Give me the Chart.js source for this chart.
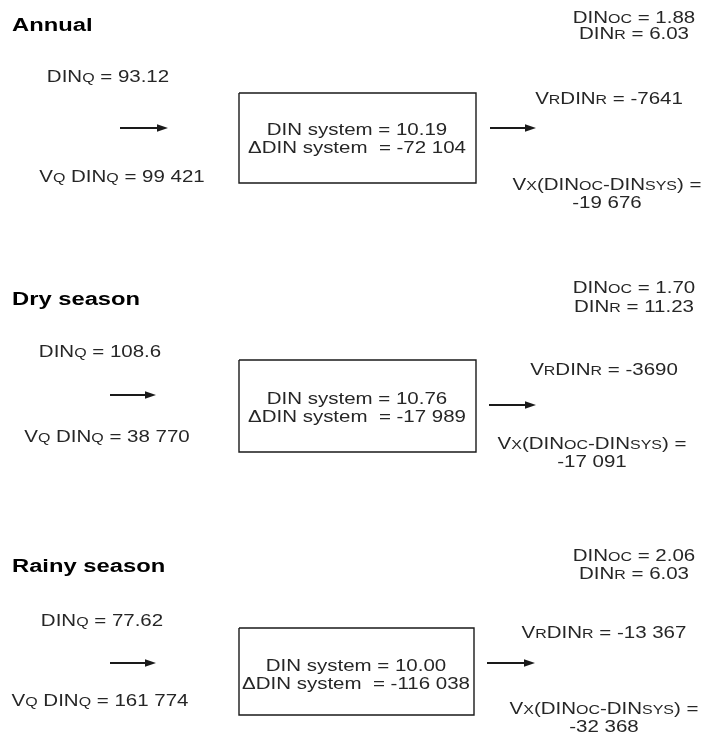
<!DOCTYPE html>
<html>
<head>
<meta charset="utf-8">
<script src="https://cdn.jsdelivr.net/npm/chart.js@4.4.1/dist/chart.umd.min.js"></script>
<style>
    html, body { margin: 0; padding: 0; background: #fff; }
    #wrap { width: 703px; height: 734px; }
</style>
</head>
<body>
<div id="wrap"><canvas id="din-budget"></canvas></div>
<script>
// DIN budget values per period
const periods = ["Annual", "Dry season", "Rainy season"];
const dinQ = [93.12, 108.6, 77.62];
const vqDinQ = [99421, 38770, 161774];
const dinSystem = [10.19, 10.76, 10.0];
const deltaDinSystem = [-72104, -17989, -116038];
const dinOc = [1.88, 1.7, 2.06];
const dinR = [6.03, 11.23, 6.03];
const vrDinR = [-7641, -3690, -13367];
const vxDin = [-19676, -17091, -32368];

// Diagram layout in page units (x 0..703, y 0..734, y down)
const layout = [
    { title: 25, oc: [634, 17, 33], q: [108, 76], arrowIn: [120, 168, 128], box: [239, 93, 476, 183], lines: [357, 129, 147], arrowOut: [490, 536, 128], vr: [609, 98], vq: [122, 176], vx: [607, 184, 202] },
    { title: 299, oc: [634, 287, 306], q: [100, 351], arrowIn: [110, 156, 395], box: [239, 360, 476, 452], lines: [357, 398, 416], arrowOut: [489, 536, 405], vr: [604, 369], vq: [107, 436], vx: [592, 443, 461] },
    { title: 566, oc: [634, 555, 573], q: [102, 620], arrowIn: [110, 156, 663], box: [239, 628, 474, 715], lines: [356, 665, 683], arrowOut: [487, 535, 663], vr: [604, 632], vq: [100, 700], vx: [604, 708, 726] },
];

const STRETCH = 1.28;
const FONT = '"Liberation Sans", Arial, Helvetica, sans-serif';
const INK = "#1a1a1a";

function fmtInt(n) {
    const s = String(Math.abs(n));
    const g = Math.abs(n) >= 10000 ? s.replace(/\B(?=(\d{3})+(?!\d))/g, " ") : s;
    return (n < 0 ? "-" : "") + g;
}

// "_{X}" marks a small-capital subscript
function drawRich(ctx, str, x, y, align, size, bold, stretch) {
    const parts = str
        .split(/(_\{[^}]*\})/)
        .filter(Boolean)
        .map((p) => (p.startsWith("_{") ? { t: p.slice(2, -1), s: true } : { t: p, s: false }));
    const font = (s) => (bold ? "bold " : "") + (s ? size * 0.78 : size) + "px " + FONT;
    let w = 0;
    parts.forEach((p) => {
        ctx.font = font(p.s);
        p.w = ctx.measureText(p.t).width;
        w += p.w;
    });
    ctx.save();
    ctx.translate(x, y);
    ctx.scale(stretch, 1);
    let cx = align === "center" ? -w / 2 : align === "right" ? -w : 0;
    ctx.textBaseline = "alphabetic";
    ctx.textAlign = "left";
    ctx.fillStyle = bold ? "#000" : "#262626";
    parts.forEach((p) => {
        ctx.font = font(p.s);
        ctx.fillText(p.t, cx, size * 0.36);
        cx += p.w;
    });
    ctx.restore();
}

// Boxes and arrow shafts as line datasets
const datasets = [];
layout.forEach((l) => {
    const [x0, y0, x1, y1] = l.box;
    datasets.push({
        data: [{ x: x0, y: y0 }, { x: x1, y: y0 }, { x: x1, y: y1 }, { x: x0, y: y1 }, { x: x0, y: y0 }],
        borderColor: INK,
        borderWidth: 1.4,
    });
    [l.arrowIn, l.arrowOut].forEach((a) => {
        datasets.push({
            data: [{ x: a[0], y: a[2] }, { x: a[1] - 6, y: a[2] }],
            borderColor: INK,
            borderWidth: 2,
            arrowTip: a[1],
        });
    });
});

const labelsPlugin = {
    id: "dinLabels",
    afterDatasetsDraw(chart) {
        const ctx = chart.ctx;
        const sx = (v) => chart.scales.x.getPixelForValue(v);
        const sy = (v) => chart.scales.y.getPixelForValue(v);

        // arrow heads
        chart.data.datasets.forEach((ds) => {
            if (!ds.arrowTip) return;
            const y = sy(ds.data[0].y);
            const tip = sx(ds.arrowTip);
            ctx.save();
            ctx.fillStyle = INK;
            ctx.beginPath();
            ctx.moveTo(tip, y);
            ctx.lineTo(tip - 11, y - 3.8);
            ctx.lineTo(tip - 11, y + 3.8);
            ctx.closePath();
            ctx.fill();
            ctx.restore();
        });

        layout.forEach((l, i) => {
            drawRich(ctx, periods[i], sx(12), sy(l.title), "left", 18, true, 1.32);
            drawRich(ctx, "DIN_{OC} = " + dinOc[i].toFixed(2), sx(l.oc[0]), sy(l.oc[1]), "center", 16, false, STRETCH);
            drawRich(ctx, "DIN_{R} = " + dinR[i].toFixed(2), sx(l.oc[0]), sy(l.oc[2]), "center", 16, false, STRETCH);
            drawRich(ctx, "DIN_{Q} = " + String(dinQ[i]), sx(l.q[0]), sy(l.q[1]), "center", 16, false, STRETCH);
            drawRich(ctx, "V_{Q} DIN_{Q} = " + fmtInt(vqDinQ[i]), sx(l.vq[0]), sy(l.vq[1]), "center", 16, false, STRETCH);
            drawRich(ctx, "DIN system = " + dinSystem[i].toFixed(2), sx(l.lines[0]), sy(l.lines[1]), "center", 16, false, STRETCH);
            drawRich(ctx, "\u0394DIN system  = " + fmtInt(deltaDinSystem[i]), sx(l.lines[0]), sy(l.lines[2]), "center", 16, false, STRETCH);
            drawRich(ctx, "V_{R}DIN_{R} = " + fmtInt(vrDinR[i]), sx(l.vr[0]), sy(l.vr[1]), "center", 16, false, STRETCH);
            drawRich(ctx, "V_{X}(DIN_{OC}-DIN_{SYS}) =", sx(l.vx[0]), sy(l.vx[1]), "center", 16, false, STRETCH);
            drawRich(ctx, fmtInt(vxDin[i]), sx(l.vx[0]), sy(l.vx[2]), "center", 16, false, STRETCH);
        });
    },
};

new Chart(document.getElementById("din-budget"), {
    type: "scatter",
    data: { datasets: datasets },
    options: {
        responsive: true,
        maintainAspectRatio: false,
        animation: false,
        events: [],
        showLine: true,
        clip: false,
        elements: { point: { radius: 0 }, line: { tension: 0 } },
        layout: { padding: 0 },
        plugins: { legend: { display: false }, tooltip: { enabled: false } },
        scales: {
            x: { type: "linear", min: 0, max: 703, display: false },
            y: { type: "linear", min: 0, max: 734, reverse: true, display: false },
        },
    },
    plugins: [labelsPlugin],
});
</script>
</body>
</html>
